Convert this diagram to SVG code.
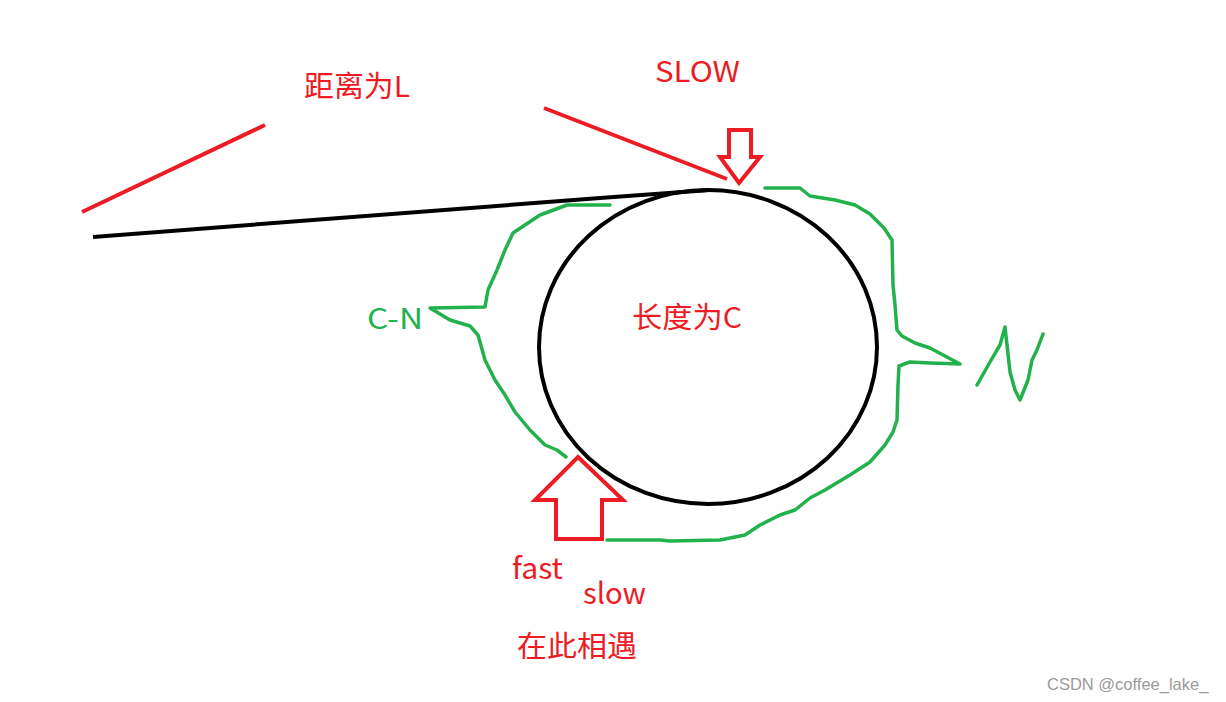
<svg xmlns="http://www.w3.org/2000/svg" width="1226" height="702" viewBox="0 0 1226 702">
<style>
.red{stroke:#ED1C24;stroke-width:4;fill:none;stroke-linejoin:miter}
.grn{stroke:#22B14C;stroke-width:3.5;fill:none;stroke-linejoin:round;stroke-linecap:round}
.blk{stroke:#000;stroke-width:4;fill:none}
.tr{fill:#ED1C24;font-family:"Noto Sans CJK SC","Noto Sans",sans-serif;font-size:29px}
.tg{fill:#22B14C;font-family:"Noto Sans CJK SC","Noto Sans",sans-serif;font-size:29px}
.wm{fill:#9a9a9a;font-family:"Liberation Sans",Arial,sans-serif;font-size:16.5px}
</style>
<rect width="1226" height="702" fill="#fff"/>
<g id="connectors">
<line class="red" x1="82" y1="212" x2="265" y2="125"/>
<line class="red" x1="544" y1="108" x2="727" y2="179"/>
<path class="blk" d="M93,237 L600,198 L710,190"/>
<path class="grn" d="M610,205 L567,205 L540,215 L513,233 L505,250 L497,270 L488,290 L485,307 L430,308 L450,320 L470,326 L478,335 L485,360 L495,380 L505,395 L515,412 L530,430 L545,445 L557,450 L566,457"/>
<path class="grn" d="M765,188 L800,188 L810,196 L835,200 L855,205 L870,214 L884,228 L892,240 L893,285 L895,305 L897,330 L902,336 L915,343 L930,348 L945,356 L960,364 L930,363 L910,362 L899,366 L898,385 L897,420 L893,432 L885,445 L870,462 L850,475 L825,490 L810,498 L795,510 L780,515 L760,525 L745,535 L720,540 L670,541 L660,540 L607,540"/>
<path class="grn" d="M977,385 L990,362 L1000,345 L1005,327 L1010,372 L1015,390 L1020,400 L1028,380 L1032,360 L1037,350 L1043,334"/>
</g>
<g id="loop">
<ellipse class="blk" cx="708" cy="347" rx="169" ry="157"/>
</g>
<g id="arrow-top">
<polygon class="red" points="729,130 751,130 751,157 760,157 739,183 720,157 729,157"/>
</g>
<g id="arrow-bottom">
<polygon class="red" points="578,457 623,500 602,500 602,539 556,539 556,500 535,500"/>
</g>
<g id="labels">
<text class="tr" x="304" y="97" textLength="106" lengthAdjust="spacingAndGlyphs">距离为L</text>
<text class="tr" x="655" y="82" textLength="85" lengthAdjust="spacingAndGlyphs">SLOW</text>
<text class="tr" x="632" y="328" textLength="110" lengthAdjust="spacingAndGlyphs">长度为C</text>
<text class="tg" x="367" y="329" textLength="56" lengthAdjust="spacingAndGlyphs">C-N</text>
<text class="tr" x="512" y="579" textLength="51" lengthAdjust="spacingAndGlyphs">fast</text>
<text class="tr" x="583" y="604" textLength="63" lengthAdjust="spacingAndGlyphs">slow</text>
<text class="tr" x="517" y="657" textLength="120" lengthAdjust="spacingAndGlyphs">在此相遇</text>
<text class="wm" x="1047" y="690">CSDN @coffee_lake_</text>
</g>
</svg>
